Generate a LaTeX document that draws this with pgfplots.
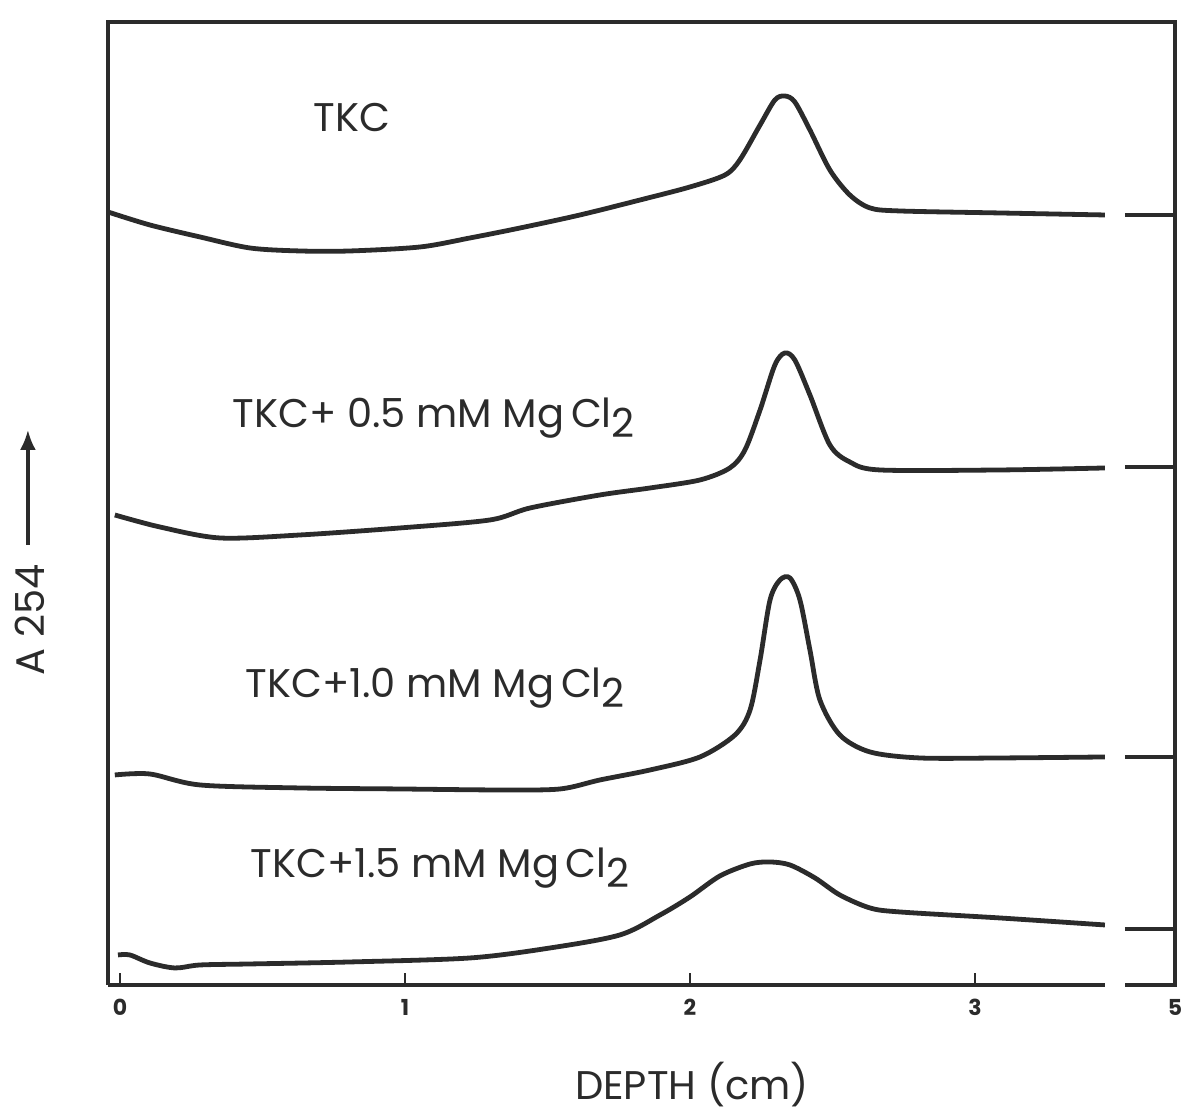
\documentclass[border=0pt]{standalone}
\usepackage{fontspec}
\setmainfont{Poppins}
\usepackage{pgfplots}
\pgfplotsset{compat=1.18}
\usetikzlibrary{arrows.meta}
\definecolor{ink}{HTML}{2B2B2B}
\newcommand{\mg}{Mg\,Cl\raisebox{-0.45ex}{2}}
\tikzset{
  curve/.style={ink, line width=1.2pt, mark=none, smooth, tension=0.5},
  seg/.style={ink, line width=1.2pt, mark=none},
  lab/.style={text=ink, inner sep=0pt, font=\fontsize{10}{11}\selectfont},
}
\begin{document}
\begin{tikzpicture}
\begin{axis}[
  scale only axis, width=266.75pt, height=240.75pt,
  xmin=-0.042, xmax=3.702, ymin=0, ymax=963,
  axis line style={draw=none},
  ytick=\empty,
  xtick={0,1,2,3,3.702}, xticklabels={0,1,2,3,5},
  xtick pos=bottom, tick align=inside, major tick length=3pt,
  tick style={ink, line width=0.6pt},
  xticklabel style={font=\fontsize{5.5}{6}\selectfont\bfseries, text=ink},
  /pgf/number format/assume math mode=true,
  clip=false,
]
% frame
\draw[ink, line width=1pt] (axis cs:-0.042,0) -- (axis cs:-0.042,963) -- (axis cs:3.702,963) -- (axis cs:3.702,0) -- (axis cs:3.526,0);
\draw[ink, line width=1pt] (axis cs:-0.042,0) -- (axis cs:3.456,0);
% TKC
\addplot[curve] coordinates {(-0.042,773) (0.105,760) (0.281,748) (0.456,737) (0.632,734) (0.807,734) (1.053,738) (1.228,747) (1.404,757) (1.614,770) (1.825,785) (2.000,798) (2.123,810) (2.175,825) (2.246,860) (2.298,885) (2.333,889) (2.368,883) (2.421,855) (2.491,815) (2.561,790) (2.632,777) (2.737,774) (3.088,772) (3.456,770)};
\addplot[seg] coordinates {(3.526,770) (3.702,770)};
% TKC + 0.5
\addplot[curve] coordinates {(-0.018,470) (0.140,458) (0.351,447) (0.632,450) (0.982,457) (1.298,465) (1.439,477) (1.684,490) (1.860,497) (2.035,505) (2.140,517) (2.193,535) (2.246,575) (2.298,620) (2.333,632) (2.368,625) (2.421,590) (2.491,540) (2.561,523) (2.667,515) (3.088,515) (3.456,517)};
\addplot[seg] coordinates {(3.526,518) (3.702,518)};
% TKC + 1.0
\addplot[curve] coordinates {(-0.018,210) (0.105,211) (0.281,200) (0.632,197) (0.982,196) (1.333,195) (1.544,196) (1.684,205) (1.860,215) (2.035,228) (2.158,250) (2.211,275) (2.246,325) (2.281,385) (2.316,405) (2.351,407) (2.386,385) (2.421,335) (2.456,285) (2.526,250) (2.632,233) (2.807,227) (3.088,227) (3.456,228)};
\addplot[seg] coordinates {(3.526,228) (3.702,228)};
% TKC + 1.5
\addplot[curve] coordinates {(-0.007,30) (0.035,30) (0.105,22) (0.193,17) (0.281,20) (0.456,21) (0.807,23) (1.228,27) (1.509,37) (1.754,50) (1.895,70) (2.000,88) (2.105,109) (2.211,121) (2.281,123) (2.351,120) (2.439,107) (2.526,90) (2.632,77) (2.737,73) (3.088,67) (3.456,60)};
\addplot[seg] coordinates {(3.526,56) (3.702,56)};
% labels
\node[lab] at (axis cs:0.814,867) {TKC};
\node[lab, anchor=west] at (axis cs:0.393,567) {TKC+ 0.5 mM \mg};
\node[lab, anchor=west] at (axis cs:0.439,297) {TKC+1.0 mM \mg};
\node[lab, anchor=west] at (axis cs:0.456,117) {TKC+1.5 mM \mg};
\node[lab, rotate=90] at (axis cs:-0.316,365) {A 254};
\draw[ink, line width=0.8pt, -{Latex[length=5pt,width=4pt]}] (axis cs:-0.323,440) -- (axis cs:-0.323,555);
\node[lab] at (axis cs:2.007,-100) {DEPTH (cm)};
\end{axis}
\pgfresetboundingbox
\path[use as bounding box] ([xshift=-27pt,yshift=-31pt]current axis.south west) rectangle ([xshift=4.75pt,yshift=5.5pt]current axis.north east);
\end{tikzpicture}
\end{document}
